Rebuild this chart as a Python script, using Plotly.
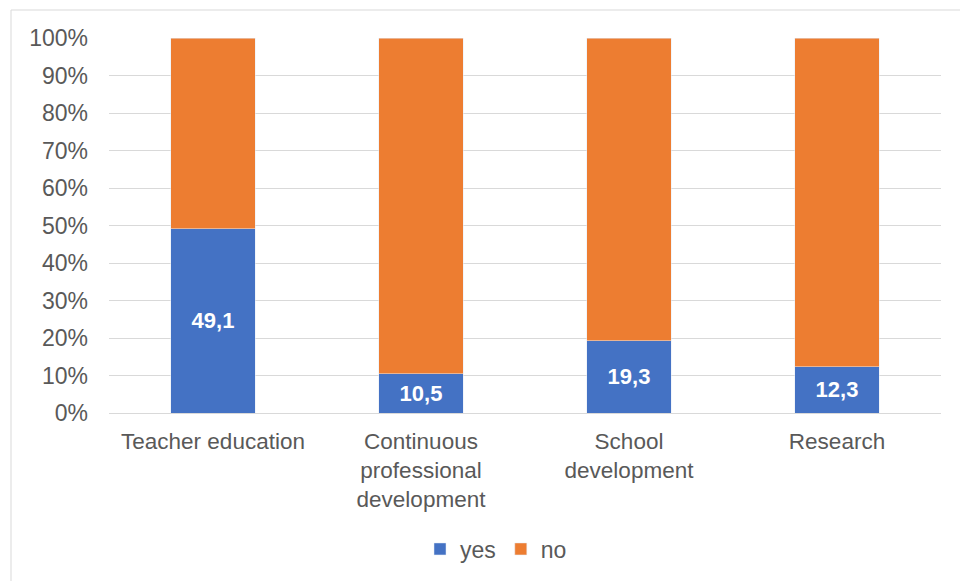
import plotly.graph_objects as go

categories = ["Teacher education", "Continuous<br>professional<br>development",
              "School<br>development", "Research"]
yes_values = [49.1, 10.5, 19.3, 12.3]
no_values = [50.9, 89.5, 80.7, 87.7]
y_ticks = [0, 10, 20, 30, 40, 50, 60, 70, 80, 90, 100]
y_tick_labels = [f"{v}%" for v in y_ticks]

BLUE = "#4472C4"
ORANGE = "#ED7D31"
GREY = "#595959"
FONT = "Liberation Sans, Arial, sans-serif"

fig = go.Figure()
fig.add_trace(go.Bar(
    x=categories, y=yes_values, name="yes", marker_color=BLUE,
    texttemplate="%{y:.1f}", textposition="inside", insidetextanchor="middle",
    textangle=0,
    textfont=dict(color="white", size=22, family=FONT, weight="bold"),
    cliponaxis=False,
))
fig.add_trace(go.Bar(
    x=categories, y=no_values, name="no", marker_color=ORANGE,
))

L, R, T, B = 109, 19, 38, 168
W, H = 960, 581
pw, ph = W - L - R, H - T - B

fig.update_layout(
    width=W, height=H,
    barmode="stack", bargap=0.596,
    separators=",.",
    paper_bgcolor="white", plot_bgcolor="white",
    margin=dict(l=L, r=R, t=T, b=B, pad=0, autoexpand=False),
    font=dict(family=FONT, size=23, color=GREY),
    uniformtext=dict(minsize=22, mode="show"),
    legend=dict(orientation="h", x=(420 - L) / pw, xanchor="left",
                y=(T + ph - 549) / ph, yanchor="middle",
                font=dict(size=23, color=GREY), itemwidth=30,
                tracegroupgap=0, traceorder="normal"),
    showlegend=True,
    shapes=[dict(type="rect", xref="paper", yref="paper",
                 x0=(11 - L) / pw, x1=(W + 10 - L) / pw,
                 y0=(T + ph - (H + 10)) / ph, y1=(T + ph - 10) / ph,
                 line=dict(color="#d9d9d9", width=1), fillcolor="rgba(0,0,0,0)",
                 layer="below")],
)
fig.update_yaxes(range=[0, 100], tickmode="array", tickvals=y_ticks,
                 ticktext=y_tick_labels, automargin=False,
                 showgrid=True, gridcolor="#d9d9d9", gridwidth=1,
                 zeroline=True, zerolinecolor="#d9d9d9", zerolinewidth=1,
                 showline=False, ticks="", ticklabelstandoff=20,
                 tickfont=dict(size=23, color=GREY))
fig.update_xaxes(showgrid=False, showline=False, ticks="", tickangle=0,
                 automargin=False,
                 ticklabelstandoff=12, tickfont=dict(size=22.5, color=GREY))

fig.write_html("out.html")
